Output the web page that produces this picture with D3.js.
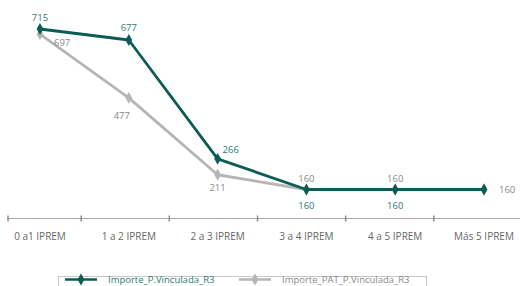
<!DOCTYPE html>
<html>
<head>
<meta charset="utf-8">
<style>
body { margin: 0; background: #fff; }
svg { display: block; font-family: "Open Sans", sans-serif; }
.xlab { font-size: 10px; fill: #666; text-anchor: middle; }
.dlab { font-size: 9.5px; }
</style>
<script src="https://d3js.org/d3.v7.min.js"></script>
</head>
<body>
<svg width="520" height="286"></svg>
<script>
var categories = ["0 a1 IPREM", "1 a 2 IPREM", "2 a 3 IPREM", "3 a 4 IPREM", "4 a 5 IPREM", "Más 5 IPREM"];
var vinculada = [715, 677, 266, 160, 160, 160];
var patVinculada = [697, 477, 211, 160, 160, 160];
var seriesNames = ["Importe_P.Vinculada_R3", "Importe_PAT_P.Vinculada_R3"];

var svg = d3.select("svg"),
    width = +svg.attr("width"),
    height = +svg.attr("height");

var green = "#0b5c55", greenText = "#2d7b73";
var grey = "#b5b5b5", greyText = "#8a8a8a";

var x = d3.scalePoint().domain(categories).range([40, 484]);
var band = d3.scaleBand().domain(categories).range([-7, 522]);
var y = d3.scaleLinear().domain([160, 715]).range([189.5, 29]);

// x axis
var axisY = 218.5;
svg.append("line")
   .attr("x1", 8).attr("x2", width)
   .attr("y1", axisY).attr("y2", axisY)
   .attr("stroke", "#a6a6a6").attr("stroke-width", 1.2);

var tickXs = [8].concat(categories.slice(1).map(function(c) { return band(c); }));
svg.selectAll(".tick").data(tickXs).enter().append("line")
   .attr("x1", function(d) { return d; }).attr("x2", function(d) { return d; })
   .attr("y1", axisY - 3).attr("y2", axisY + 3)
   .attr("stroke", "#8c8c8c").attr("stroke-width", 1.5);

svg.selectAll(".xlab").data(categories).enter().append("text")
   .attr("class", "xlab")
   .attr("x", function(d) { return x(d); })
   .attr("y", 239.5)
   .text(function(d) { return d; });

var line = d3.line()
   .x(function(d, i) { return x(categories[i]); })
   .y(function(d) { return y(d); });

var diamond = d3.symbol().type(d3.symbolDiamond).size(40);

function drawSeries(vals, color, w) {
  svg.append("path").datum(vals)
     .attr("d", line)
     .attr("fill", "none")
     .attr("stroke", color)
     .attr("stroke-width", w)
     .attr("stroke-linejoin", "round");
  svg.selectAll(null).data(vals).enter().append("path")
     .attr("d", diamond)
     .attr("transform", function(d, i) { return "translate(" + x(categories[i]) + "," + y(d) + ")"; })
     .attr("fill", color);
}

drawSeries(patVinculada, grey, 2.8);
drawSeries(vinculada, green, 2.8);

// data labels: [dx, dy, anchor]
var greenPos = [[0, -8, "middle"], [0, -9, "middle"], [5, -6, "start"], [0, 19, "middle"], [0, 19, "middle"], null];
var greyPos = [[14, 12, "start"], [-7, 21, "middle"], [0, 16, "middle"], [0, -8, "middle"], [0, -8, "middle"], [15, 3, "start"]];

function drawLabels(vals, pos, color) {
  svg.selectAll(null).data(vals).enter()
     .filter(function(d, i) { return pos[i]; })
     .append("text")
     .attr("class", "dlab")
     .attr("fill", color)
     .attr("text-anchor", function(d, i) { return pos[i][2]; })
     .attr("x", function(d, i) { return x(categories[i]) + pos[i][0]; })
     .attr("y", function(d, i) { return y(d) + pos[i][1]; })
     .text(function(d) { return d; });
}
drawLabels(patVinculada, greyPos, greyText);
drawLabels(vinculada, greenPos, greenText);

// legend
var lg = svg.append("g");
lg.append("rect")
  .attr("x", 58.5).attr("y", 276.5).attr("width", 368).attr("height", 20)
  .attr("fill", "none").attr("stroke", "#c8c8c8");

var legendItems = [
  { name: seriesNames[0], color: green, text: greenText, x0: 65 },
  { name: seriesNames[1], color: grey, text: greyText, x0: 239 }
];
legendItems.forEach(function(it) {
  lg.append("line").attr("x1", it.x0).attr("x2", it.x0 + 32)
    .attr("y1", 279.5).attr("y2", 279.5)
    .attr("stroke", it.color).attr("stroke-width", 2.5);
  lg.append("path").attr("d", diamond)
    .attr("transform", "translate(" + (it.x0 + 16) + ",279.5)")
    .attr("fill", it.color);
  lg.append("text").attr("class", "dlab")
    .attr("x", it.x0 + 43).attr("y", 283)
    .attr("fill", it.text)
    .text(it.name);
});
</script>
</body>
</html>
